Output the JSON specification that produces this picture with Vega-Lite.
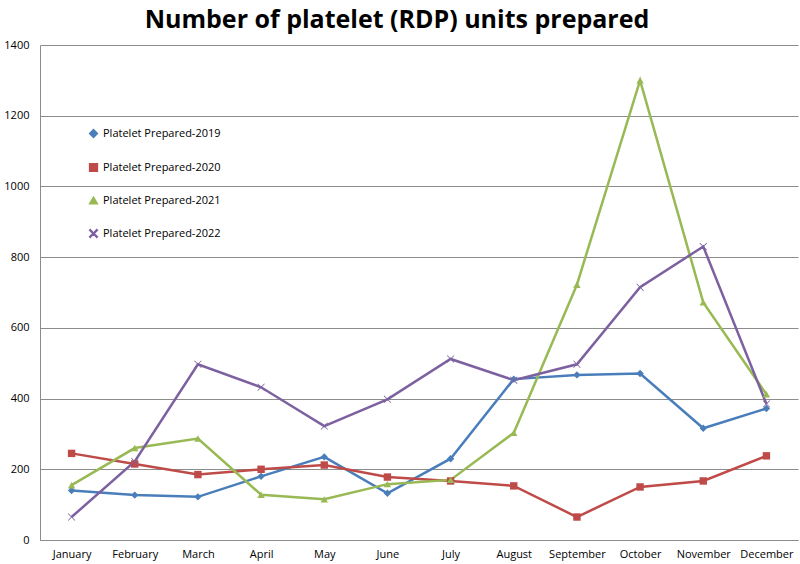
{
  "$schema": "https://vega.github.io/schema/vega-lite/v6.json",
  "width": 758,
  "height": 495,
  "autosize": "none",
  "padding": {"left": 40, "top": 45, "right": 2, "bottom": 24},
  "background": "white",
  "title": {
    "text": "Number of platelet (RDP) units prepared",
    "font": "Open Sans",
    "fontSize": 25,
    "fontWeight": "bold",
    "color": "#000000",
    "anchor": "middle",
    "dx": -22,
    "offset": 6
  },
  "data": {
    "values": [
      {"month": "January", "series": "Platelet Prepared-2019", "value": 140},
      {"month": "February", "series": "Platelet Prepared-2019", "value": 127},
      {"month": "March", "series": "Platelet Prepared-2019", "value": 122},
      {"month": "April", "series": "Platelet Prepared-2019", "value": 180},
      {"month": "May", "series": "Platelet Prepared-2019", "value": 235},
      {"month": "June", "series": "Platelet Prepared-2019", "value": 132},
      {"month": "July", "series": "Platelet Prepared-2019", "value": 230},
      {"month": "August", "series": "Platelet Prepared-2019", "value": 455},
      {"month": "September", "series": "Platelet Prepared-2019", "value": 467},
      {"month": "October", "series": "Platelet Prepared-2019", "value": 471},
      {"month": "November", "series": "Platelet Prepared-2019", "value": 316},
      {"month": "December", "series": "Platelet Prepared-2019", "value": 372},
      {"month": "January", "series": "Platelet Prepared-2020", "value": 245},
      {"month": "February", "series": "Platelet Prepared-2020", "value": 215},
      {"month": "March", "series": "Platelet Prepared-2020", "value": 185},
      {"month": "April", "series": "Platelet Prepared-2020", "value": 200},
      {"month": "May", "series": "Platelet Prepared-2020", "value": 212},
      {"month": "June", "series": "Platelet Prepared-2020", "value": 178},
      {"month": "July", "series": "Platelet Prepared-2020", "value": 167},
      {"month": "August", "series": "Platelet Prepared-2020", "value": 153},
      {"month": "September", "series": "Platelet Prepared-2020", "value": 65},
      {"month": "October", "series": "Platelet Prepared-2020", "value": 150},
      {"month": "November", "series": "Platelet Prepared-2020", "value": 167},
      {"month": "December", "series": "Platelet Prepared-2020", "value": 238},
      {"month": "January", "series": "Platelet Prepared-2021", "value": 155},
      {"month": "February", "series": "Platelet Prepared-2021", "value": 260},
      {"month": "March", "series": "Platelet Prepared-2021", "value": 287},
      {"month": "April", "series": "Platelet Prepared-2021", "value": 128},
      {"month": "May", "series": "Platelet Prepared-2021", "value": 115},
      {"month": "June", "series": "Platelet Prepared-2021", "value": 158},
      {"month": "July", "series": "Platelet Prepared-2021", "value": 170},
      {"month": "August", "series": "Platelet Prepared-2021", "value": 303},
      {"month": "September", "series": "Platelet Prepared-2021", "value": 722},
      {"month": "October", "series": "Platelet Prepared-2021", "value": 1300},
      {"month": "November", "series": "Platelet Prepared-2021", "value": 672},
      {"month": "December", "series": "Platelet Prepared-2021", "value": 412},
      {"month": "January", "series": "Platelet Prepared-2022", "value": 65},
      {"month": "February", "series": "Platelet Prepared-2022", "value": 222},
      {"month": "March", "series": "Platelet Prepared-2022", "value": 497},
      {"month": "April", "series": "Platelet Prepared-2022", "value": 432},
      {"month": "May", "series": "Platelet Prepared-2022", "value": 322},
      {"month": "June", "series": "Platelet Prepared-2022", "value": 398},
      {"month": "July", "series": "Platelet Prepared-2022", "value": 512},
      {"month": "August", "series": "Platelet Prepared-2022", "value": 452},
      {"month": "September", "series": "Platelet Prepared-2022", "value": 497},
      {"month": "October", "series": "Platelet Prepared-2022", "value": 715},
      {"month": "November", "series": "Platelet Prepared-2022", "value": 830},
      {"month": "December", "series": "Platelet Prepared-2022", "value": 385}
    ]
  },
  "config": {
    "view": {"stroke": null},
    "font": "Open Sans",
    "axis": {
      "labelFont": "Open Sans",
      "labelFontSize": 11,
      "labelColor": "#000000",
      "gridColor": "#8c8c8c",
      "gridWidth": 1.2,
      "domainColor": "#8c8c8c",
      "tickColor": "#8c8c8c"
    }
  },
  "encoding": {
    "x": {
      "field": "month",
      "type": "ordinal",
      "sort": ["January","February","March","April","May","June","July","August","September","October","November","December"],
      "scale": {"type": "point", "padding": 0.5},
      "axis": {"title": null, "labelAngle": 0, "grid": false, "ticks": false, "domain": true, "labelPadding": 8}
    },
    "y": {
      "field": "value",
      "type": "quantitative",
      "scale": {"domain": [0, 1400], "nice": false},
      "axis": {"title": null, "values": [0,200,400,600,800,1000,1200,1400], "format": "d", "grid": true, "ticks": false, "domain": true, "labelPadding": 11}
    },
    "color": {
      "field": "series",
      "type": "nominal",
      "scale": {
        "domain": ["Platelet Prepared-2019","Platelet Prepared-2020","Platelet Prepared-2021","Platelet Prepared-2022"],
        "range": ["#4a7ebb","#be4b48","#98b954","#7d60a0"]
      },
      "legend": {
        "title": null,
        "orient": "none",
        "legendX": 48,
        "legendY": 83,
        "labelFont": "Open Sans",
        "labelFontSize": 11,
        "labelColor": "#000000",
        "rowPadding": 19,
        "symbolSize": 60,
        "labelOffset": 4
      }
    }
  },
  "layer": [
    {
      "mark": {"type": "line", "strokeWidth": 2.5},
      "encoding": {"detail": {"field": "series"}}
    },
    {
      "mark": {"type": "point", "filled": true, "size": 55, "opacity": 1},
      "encoding": {
        "shape": {
          "field": "series",
          "type": "nominal",
          "scale": {
            "domain": ["Platelet Prepared-2019","Platelet Prepared-2020","Platelet Prepared-2021","Platelet Prepared-2022"],
            "range": ["diamond","square","triangle-up","M-1,-0.85L-0.85,-1L0,-0.15L0.85,-1L1,-0.85L0.15,0L1,0.85L0.85,1L0,0.15L-0.85,1L-1,0.85L-0.15,0Z"]
          },
          "legend": {
            "title": null,
            "orient": "none",
            "legendX": 48,
            "legendY": 83,
            "labelFont": "Open Sans",
            "labelFontSize": 11,
            "labelColor": "#000000",
            "rowPadding": 19,
            "symbolSize": 60,
            "labelOffset": 4
          }
        }
      }
    }
  ]
}
